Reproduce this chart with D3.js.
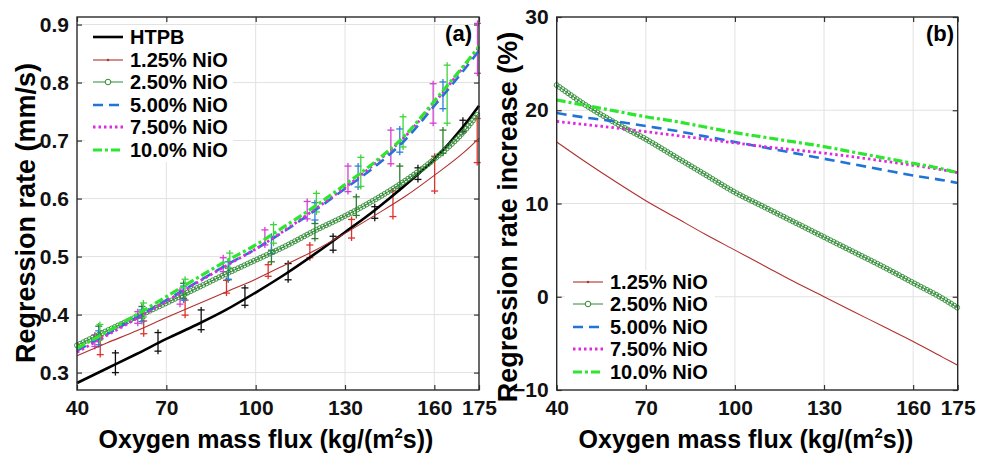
<!DOCTYPE html>
<html>
<head>
<meta charset="utf-8">
<script src="https://cdn.jsdelivr.net/npm/d3@7"></script>
<style>
  body { margin: 0; background: #fff; }
  svg { font-family: "Liberation Sans", Arial, sans-serif; font-weight: bold; }
</style>
</head>
<body>
<svg id="chart" width="984" height="455"></svg>
<script>
// oxygen mass flux grid (kg/(m2 s)) for fitted curves
const flux = [40, 50, 60, 70, 80, 90, 100, 110, 120, 130, 140, 150, 160, 170, 175];

// (a) fitted regression rate (mm/s)
const rateHTPB = [0.282, 0.307, 0.332, 0.358, 0.382, 0.408, 0.438, 0.470, 0.505, 0.542, 0.580, 0.622, 0.668, 0.726, 0.760];
const rate125 = [0.329, 0.351, 0.372, 0.395, 0.417, 0.439, 0.461, 0.486, 0.511, 0.540, 0.571, 0.603, 0.640, 0.680, 0.704];
const rate250 = [0.347, 0.372, 0.396, 0.420, 0.445, 0.470, 0.494, 0.518, 0.545, 0.570, 0.598, 0.630, 0.668, 0.716, 0.748];
const rate500 = [0.338, 0.366, 0.395, 0.425, 0.455, 0.485, 0.513, 0.545, 0.580, 0.617, 0.655, 0.700, 0.760, 0.822, 0.855];
const rate750 = [0.335, 0.364, 0.393, 0.423, 0.454, 0.484, 0.513, 0.546, 0.582, 0.619, 0.660, 0.706, 0.765, 0.828, 0.860];
const rate1000 = [0.342, 0.370, 0.400, 0.431, 0.462, 0.492, 0.520, 0.553, 0.587, 0.624, 0.663, 0.708, 0.768, 0.830, 0.862];

// (a) measured points with error bars
const expFluxHTPB = [52.9, 67.2, 81.7, 96.4, 110.9, 126, 140, 154.5, 169.6];
const expRateHTPB = [0.317, 0.353, 0.391, 0.431, 0.474, 0.523, 0.576, 0.643, 0.725];
const expErrHTPB = [0.017, 0.016, 0.017, 0.015, 0.014, 0.012, 0.010, 0.010, 0.010];

const expFlux125 = [47.8, 62.4, 76.3, 90.2, 104.2, 118.2, 132.2, 146.1, 160.1, 174.4];
const expRate125 = [0.347, 0.378, 0.412, 0.448, 0.476, 0.509, 0.548, 0.591, 0.643, 0.700];
const expErr125 = [0.016, 0.011, 0.013, 0.011, 0.010, 0.011, 0.016, 0.022, 0.030, 0.038];

const expFlux250 = [47.3, 61.8, 75.8, 90.8, 105.3, 119.9, 133.8, 148.4, 162.9];
const expRate250 = [0.368, 0.404, 0.441, 0.470, 0.501, 0.544, 0.587, 0.637, 0.698];
const expErr250 = [0.012, 0.010, 0.013, 0.010, 0.010, 0.013, 0.016, 0.019, 0.020];

const expFlux500 = [47.3, 61.8, 75.8, 90.8, 105.3, 119.9, 134.4, 148.4, 162.9];
const expRate500 = [0.360, 0.398, 0.437, 0.476, 0.520, 0.578, 0.638, 0.700, 0.778];
const expErr500 = [0.012, 0.010, 0.012, 0.015, 0.015, 0.015, 0.018, 0.020, 0.023];

const expFlux750 = [46, 60.4, 74.6, 89.1, 103.1, 117.3, 131, 145.4, 159.6, 174.5];
const expRate750 = [0.355, 0.395, 0.430, 0.486, 0.533, 0.580, 0.634, 0.689, 0.764, 0.859];
const expErr750 = [0.010, 0.010, 0.012, 0.012, 0.013, 0.015, 0.022, 0.029, 0.034, 0.043];

const expFlux1000 = [47.7, 62.3, 76.3, 91.3, 106, 120.4, 135.3, 149.5, 164.3];
const expRate1000 = [0.370, 0.408, 0.448, 0.493, 0.539, 0.593, 0.646, 0.715, 0.780];
const expErr1000 = [0.013, 0.012, 0.013, 0.013, 0.016, 0.016, 0.025, 0.026, 0.050];

// (b) regression rate increase over HTPB (%)
const inc125 = [16.6, 14.4, 12.3, 10.3, 8.5, 6.7, 5.0, 3.3, 1.6, 0.0, -1.6, -3.2, -4.8, -6.5, -7.35];
const inc250 = [22.7, 20.5, 18.6, 16.9, 15.0, 13.1, 11.2, 9.6, 8.0, 6.4, 4.8, 3.2, 1.5, -0.2, -1.2];
const inc500 = [19.7, 19.2, 18.8, 18.3, 17.8, 17.2, 16.6, 16.0, 15.4, 14.8, 14.2, 13.6, 13.0, 12.5, 12.2];
const inc750 = [18.8, 18.45, 18.1, 17.7, 17.3, 16.9, 16.5, 16.1, 15.75, 15.4, 15.0, 14.55, 14.1, 13.6, 13.3];
const inc1000 = [21.1, 20.5, 19.9, 19.3, 18.8, 18.2, 17.6, 17.1, 16.6, 16.1, 15.5, 14.9, 14.3, 13.7, 13.3];

// axis ticks
const xTicks = [40, 70, 100, 130, 160, 175];
const yTicksA = [0.3, 0.4, 0.5, 0.6, 0.7, 0.8, 0.9];
const yTicksB = [-10, 0, 10, 20, 30];

const seriesNames = ['HTPB', '1.25% NiO', '2.50% NiO', '5.00% NiO', '7.50% NiO', '10.0% NiO'];

// line styles per series, same order as seriesNames
const styles = [
    {color: '#000000', width: 2.6, dash: null},
    {color: '#b0302c', width: 1.1, dash: null, dot: true},
    {color: '#2f8a34', width: 1.0, dash: null, circles: true},
    {color: '#1f74d6', width: 2.6, dash: '10,6'},
    {color: '#e028e0', width: 2.8, dash: '2.5,3'},
    {color: '#2ee62e', width: 3.2, dash: '9,3,3,3'}
];
const barColors = ['#111111', '#e0322c', '#2d7d2d', '#2f7fd6', '#d240d2', '#3ed43e'];

const svg = d3.select('#chart');

/**
 * Draw one framed panel with grid, mirrored inward ticks and labels
 */
function makePanel(left, right, top, bottom, yDomain, yTicks, yFmt) {
    const x = d3.scaleLinear().domain([40, 175]).range([left, right]);
    const y = d3.scaleLinear().domain(yDomain).range([bottom, top]);
    const g = svg.append('g');

    // grid
    g.append('g').selectAll('line.gx')
        .data(xTicks.filter(t => t > 40 && t < 175))
        .join('line')
        .attr('x1', d => x(d)).attr('x2', d => x(d))
        .attr('y1', top).attr('y2', bottom)
        .attr('stroke', '#e2e2e2').attr('stroke-width', 1);
    g.append('g').selectAll('line.gy')
        .data(yTicks.filter(t => y(t) > top + 1 && y(t) < bottom - 1))
        .join('line')
        .attr('x1', left).attr('x2', right)
        .attr('y1', d => y(d)).attr('y2', d => y(d))
        .attr('stroke', '#e2e2e2').attr('stroke-width', 1);

    // axes with inward ticks
    const tk = 5;
    g.append('g').attr('transform', `translate(0,${bottom})`)
        .call(d3.axisBottom(x).tickValues(xTicks).tickSize(-tk).tickPadding(10).tickFormat(d3.format('d')));
    g.append('g').attr('transform', `translate(0,${top})`)
        .call(d3.axisTop(x).tickValues(xTicks).tickSize(-tk).tickFormat(''));
    g.append('g').attr('transform', `translate(${left},0)`)
        .call(d3.axisLeft(y).tickValues(yTicks).tickSize(-tk).tickPadding(8).tickFormat(yFmt));
    g.append('g').attr('transform', `translate(${right},0)`)
        .call(d3.axisRight(y).tickValues(yTicks).tickSize(-tk).tickFormat(''));

    g.selectAll('.domain').remove();
    g.selectAll('.tick line').attr('stroke', '#333').attr('stroke-width', 1.2);
    g.selectAll('.tick text')
        .attr('fill', '#111')
        .style('font-size', '21px')
        .style('font-weight', 'bold')
        .style('font-family', '"Liberation Sans", Arial, sans-serif');

    return {x, y, g, left, right, top, bottom};
}

function drawFrame(p) {
    p.g.append('rect')
        .attr('x', p.left).attr('y', p.top)
        .attr('width', p.right - p.left).attr('height', p.bottom - p.top)
        .attr('fill', 'none').attr('stroke', '#2a2a2a').attr('stroke-width', 1.4);
}

function drawCurve(p, values, st) {
    const line = d3.line()
        .x((d, i) => p.x(flux[i]))
        .y(d => p.y(d))
        .curve(d3.curveMonotoneX);
    const path = p.g.append('path')
        .datum(values)
        .attr('d', line)
        .attr('fill', 'none')
        .attr('stroke', st.color)
        .attr('stroke-width', st.width)
        .attr('stroke-dasharray', st.dash);

    if (st.circles) {
        // open circle markers packed along the fitted curve
        const node = path.node();
        const len = node.getTotalLength();
        const pts = d3.range(0, len + 0.01, 3.5).map(l => node.getPointAtLength(l));
        p.g.append('g').selectAll('circle')
            .data(pts)
            .join('circle')
            .attr('cx', d => d.x).attr('cy', d => d.y)
            .attr('r', 2.5)
            .attr('fill', 'none')
            .attr('stroke', st.color)
            .attr('stroke-width', 0.9);
    }
}

function drawErrorBars(p, xs, ys, es, color) {
    const pts = xs.map((v, i) => ({g: v, lo: ys[i] - es[i], hi: ys[i] + es[i]}));
    const eg = p.g.append('g').attr('stroke', color).attr('stroke-width', 1.3);
    eg.selectAll('line.v').data(pts).join('line')
        .attr('x1', d => p.x(d.g)).attr('x2', d => p.x(d.g))
        .attr('y1', d => p.y(d.hi) - 3).attr('y2', d => p.y(d.lo) + 3);
    eg.selectAll('line.t').data(pts).join('line')
        .attr('x1', d => p.x(d.g) - 3.5).attr('x2', d => p.x(d.g) + 3.5)
        .attr('y1', d => p.y(d.hi)).attr('y2', d => p.y(d.hi));
    eg.selectAll('line.b').data(pts).join('line')
        .attr('x1', d => p.x(d.g) - 3.5).attr('x2', d => p.x(d.g) + 3.5)
        .attr('y1', d => p.y(d.lo)).attr('y2', d => p.y(d.lo));
}

function drawLegend(p, x0, y0, w, h, rowY, idx) {
    const lg = svg.append('g');
    lg.append('rect').attr('x', x0).attr('y', y0).attr('width', w).attr('height', h).attr('fill', '#fff');
    idx.forEach((k, j) => {
        const st = styles[k];
        const yy = rowY[j];
        const sx = x0 + 8;
        lg.append('line')
            .attr('x1', sx).attr('x2', sx + 30).attr('y1', yy).attr('y2', yy)
            .attr('stroke', st.color).attr('stroke-width', st.width)
            .attr('stroke-dasharray', st.dash);
        if (st.circles) {
            lg.append('circle').attr('cx', sx + 15).attr('cy', yy).attr('r', 2.8)
                .attr('fill', '#fff').attr('stroke', st.color).attr('stroke-width', 1);
        }
        if (st.dot) {
            lg.append('circle').attr('cx', sx + 15).attr('cy', yy).attr('r', 1.2).attr('fill', st.color);
        }
        lg.append('text')
            .attr('x', sx + 37).attr('y', yy).attr('dy', '0.36em')
            .style('font-size', '20px')
            .text(seriesNames[k]);
    });
}

// ---------- panel (a) ----------
const pa = makePanel(77, 479, 17, 390, [0.27, 0.913], yTicksA, d3.format('.1f'));

drawErrorBars(pa, expFluxHTPB, expRateHTPB, expErrHTPB, barColors[0]);
drawErrorBars(pa, expFlux125, expRate125, expErr125, barColors[1]);
drawErrorBars(pa, expFlux250, expRate250, expErr250, barColors[2]);
drawErrorBars(pa, expFlux500, expRate500, expErr500, barColors[3]);
drawErrorBars(pa, expFlux750, expRate750, expErr750, barColors[4]);
drawErrorBars(pa, expFlux1000, expRate1000, expErr1000, barColors[5]);

[rateHTPB, rate125, rate250, rate500, rate750, rate1000].forEach((v, i) => drawCurve(pa, v, styles[i]));
drawFrame(pa);

drawLegend(pa, 85, 25, 148, 137, [37, 60, 82, 105, 127, 150], [0, 1, 2, 3, 4, 5]);

// ---------- panel (b) ----------
const pb = makePanel(556.7, 957.7, 17, 390, [-10, 30], yTicksB, d3.format('d'));
[inc125, inc250, inc500, inc750, inc1000].forEach((v, i) => drawCurve(pb, v, styles[i + 1]));
drawFrame(pb);

drawLegend(pb, 565, 270, 150, 114, [282, 304, 327, 349, 372], [1, 2, 3, 4, 5]);

// ---------- titles ----------
function xTitle(cx) {
    const t = svg.append('text')
        .attr('x', cx).attr('y', 448)
        .attr('text-anchor', 'middle')
        .style('font-size', '25px');
    t.append('tspan').text('Oxygen mass flux (kg/(m');
    t.append('tspan').attr('dy', -10).style('font-size', '15px').text('2');
    t.append('tspan').attr('dy', 10).text('s))');
}
xTitle(266);
xTitle(746);

svg.append('text')
    .attr('transform', 'translate(35,213) rotate(-90)')
    .attr('text-anchor', 'middle')
    .style('font-size', '27px')
    .text('Regression rate (mm/s)');
svg.append('text')
    .attr('transform', 'translate(517,217) rotate(-90)')
    .attr('text-anchor', 'middle')
    .style('font-size', '27px')
    .text('Regression rate increase (%)');

svg.append('text').attr('x', 472).attr('y', 41).attr('text-anchor', 'end').style('font-size', '22px').text('(a)');
svg.append('text').attr('x', 954).attr('y', 41).attr('text-anchor', 'end').style('font-size', '22px').text('(b)');
</script>
</body>
</html>
